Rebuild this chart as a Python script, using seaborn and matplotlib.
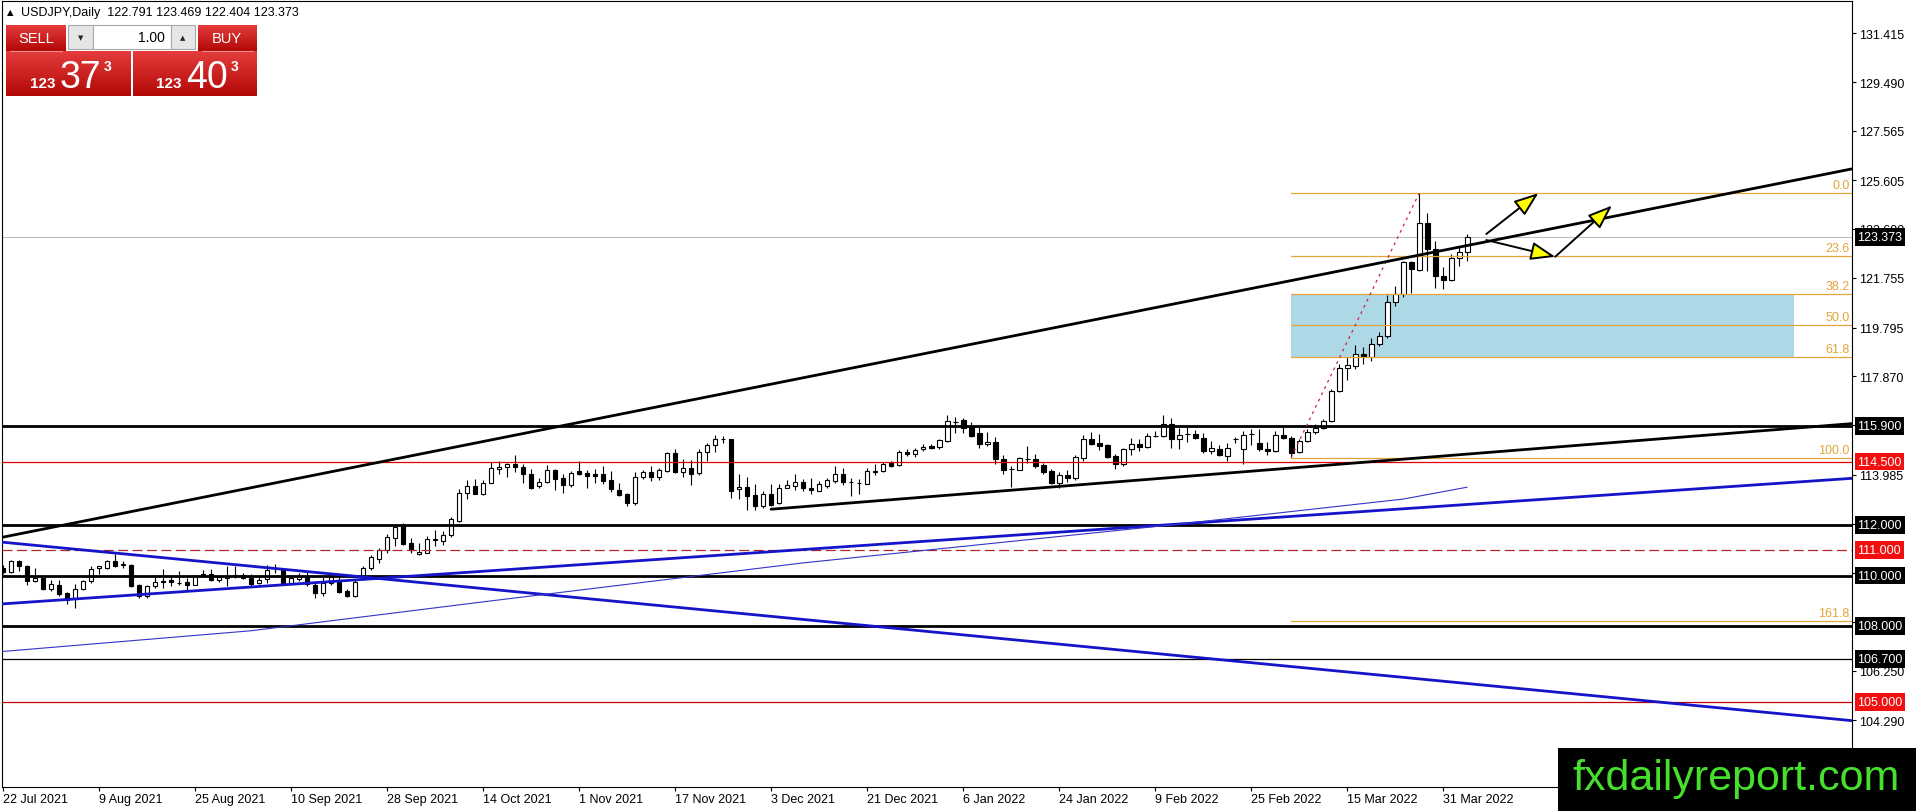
import numpy as np
import pandas as pd
import matplotlib
matplotlib.use("Agg")
import matplotlib.pyplot as plt
import matplotlib.transforms as mtransforms
from matplotlib.patches import Rectangle, FancyArrowPatch
from matplotlib.colors import LinearSegmentedColormap
import seaborn as sns


sns.set_theme(style="white")
plt.rcParams["font.family"] = ["Liberation Sans", "DejaVu Sans"]
plt.rcParams["lines.scale_dashes"] = False

# ---- data (bar index 0 = 22 Jul 2021, daily bars) ----
opens = [110.30, 110.13, 110.57, 110.39, 109.78, 109.91, 109.45, 109.62, 109.32, 109.08,
         109.45, 109.78, 110.29, 110.29, 110.59, 110.43, 110.43, 109.62, 109.21, 109.58,
         109.76, 109.82, 109.72, 109.74, 109.64, 110.03, 110.07, 109.84, 109.91, 110.00,
         110.02, 109.89, 109.70, 109.86, 110.28, 110.22, 109.67, 109.86, 109.99, 109.63,
         109.33, 109.70, 109.76, 109.39, 109.20, 109.99, 110.29, 110.64, 111.01, 111.47,
         112.00, 111.28, 110.86, 110.91, 111.42, 111.38, 111.61, 112.17, 113.28, 113.54,
         113.22, 113.67, 114.20, 114.30, 114.39, 114.30, 114.00, 113.54, 113.71, 114.16,
         113.84, 113.58, 114.13, 114.04, 114.00, 114.00, 113.76, 113.38, 113.24, 112.86,
         113.91, 114.09, 113.89, 114.13, 114.83, 114.07, 114.26, 114.04, 114.88, 115.14,
         115.40, 115.38, 113.41, 113.51, 113.17, 112.75, 113.21, 112.86, 113.47, 113.54,
         113.71, 113.47, 113.34, 113.55, 113.74, 114.03, 113.70, 113.65, 113.63, 114.10,
         114.11, 114.43, 114.37, 114.86, 114.82, 114.99, 115.12, 115.08, 115.32, 116.07,
         116.13, 115.91, 115.64, 115.21, 115.29, 114.59, 114.20, 114.17, 114.59, 114.59,
         114.37, 114.13, 113.64, 113.97, 113.87, 114.66, 115.38, 115.25, 115.14, 114.72,
         114.42, 114.99, 115.21, 115.08, 115.51, 115.51, 116.00, 115.38, 115.60, 115.61,
         115.45, 114.92, 115.01, 114.72, 115.38, 115.01, 115.58, 115.22, 115.01, 114.92,
         115.54, 115.45, 114.86, 115.32, 115.67, 115.84, 116.11, 117.29, 118.21, 118.28,
         118.74, 118.64, 119.13, 119.46, 120.82, 121.12, 122.38, 122.05, 123.93, 122.88,
         121.82, 121.69, 122.53, 122.791]
highs = [110.40, 110.63, 110.63, 110.43, 110.30, 109.95, 109.84, 109.82, 109.36, 109.68,
         109.84, 110.39, 110.39, 110.63, 110.87, 110.59, 110.47, 109.66, 109.64, 110.04,
         110.26, 109.95, 110.17, 109.91, 110.04, 110.21, 110.26, 110.00, 110.39, 110.39,
         110.09, 110.07, 109.96, 110.42, 110.45, 110.29, 109.96, 110.12, 110.16, 109.76,
         109.96, 110.07, 109.99, 109.46, 109.83, 110.36, 110.82, 111.08, 111.64, 112.00,
         112.07, 111.47, 111.30, 111.57, 111.80, 111.74, 112.30, 113.41, 113.78, 113.80,
         113.78, 114.49, 114.53, 114.46, 114.75, 114.39, 114.22, 113.87, 114.36, 114.22,
         114.00, 114.13, 114.53, 114.17, 114.22, 114.33, 114.13, 113.67, 113.28, 114.07,
         114.17, 114.33, 114.26, 114.88, 114.99, 114.62, 114.57, 114.99, 115.25, 115.54,
         115.51, 115.41, 114.00, 113.89, 113.63, 113.34, 113.63, 113.61, 113.76, 114.00,
         113.80, 113.84, 113.74, 113.87, 114.33, 114.26, 113.87, 113.80, 114.24, 114.39,
         114.50, 114.53, 114.95, 114.99, 115.05, 115.21, 115.21, 115.38, 116.34, 116.26,
         116.24, 116.08, 115.87, 115.68, 115.47, 114.76, 114.33, 114.68, 115.12, 114.82,
         114.46, 114.20, 114.07, 114.16, 114.76, 115.55, 115.68, 115.61, 115.18, 114.79,
         115.03, 115.45, 115.38, 115.64, 115.71, 116.34, 116.21, 115.84, 115.87, 115.74,
         115.64, 115.32, 115.14, 115.25, 115.49, 115.71, 115.78, 115.78, 115.28, 115.71,
         115.91, 115.51, 115.41, 115.78, 115.97, 116.17, 117.38, 118.34, 118.64, 119.09,
         119.04, 119.39, 119.60, 121.06, 121.43, 122.44, 122.44, 125.10, 124.32, 123.23,
         122.18, 122.70, 122.97, 123.469]
lows = [110.07, 110.10, 110.17, 109.61, 109.74, 109.42, 109.38, 109.18, 108.86, 108.71,
        109.42, 109.71, 110.08, 110.26, 110.33, 110.30, 109.55, 109.12, 109.12, 109.51,
        109.51, 109.58, 109.64, 109.42, 109.61, 109.95, 109.78, 109.74, 109.58, 109.90,
        109.86, 109.57, 109.67, 109.70, 110.09, 109.63, 109.67, 109.80, 109.57, 109.11,
        109.20, 109.63, 109.30, 109.17, 109.17, 109.83, 110.22, 110.51, 110.88, 111.17,
        111.21, 110.91, 110.82, 110.88, 111.17, 111.21, 111.51, 112.13, 113.01, 113.22,
        113.20, 113.64, 114.00, 113.91, 114.09, 113.64, 113.43, 113.47, 113.67, 113.38,
        113.28, 113.51, 113.96, 113.47, 113.67, 113.61, 113.30, 113.14, 112.75, 112.78,
        113.83, 113.74, 113.78, 114.09, 114.04, 113.91, 113.57, 113.96, 114.53, 114.86,
        115.25, 113.08, 113.01, 112.58, 112.58, 112.68, 112.75, 112.82, 113.45, 113.37,
        113.34, 113.21, 113.32, 113.45, 113.67, 113.58, 113.14, 113.21, 113.61, 113.97,
        114.07, 114.29, 114.33, 114.72, 114.68, 114.92, 115.01, 114.99, 115.29, 115.64,
        115.64, 115.47, 115.05, 115.12, 114.42, 114.03, 113.50, 114.16, 114.46, 114.24,
        114.00, 113.61, 113.47, 113.71, 113.76, 114.53, 115.16, 114.95, 114.63, 114.20,
        114.33, 114.76, 114.92, 115.05, 115.47, 115.47, 115.05, 115.01, 115.29, 115.38,
        114.83, 114.79, 114.72, 114.53, 115.25, 114.42, 115.14, 114.92, 114.75, 114.86,
        115.41, 114.66, 114.83, 115.28, 115.58, 115.80, 116.07, 117.25, 117.72, 118.14,
        118.34, 118.47, 119.05, 119.40, 120.64, 120.99, 121.16, 122.01, 122.01, 121.35,
        121.30, 121.65, 122.24, 122.404]
closes = [110.13, 110.57, 110.37, 109.78, 109.91, 109.45, 109.67, 109.29, 109.05, 109.47,
          109.78, 110.24, 110.36, 110.59, 110.37, 110.45, 109.58, 109.21, 109.58, 109.75,
          109.78, 109.74, 109.71, 109.64, 109.97, 110.05, 109.82, 109.95, 110.00, 110.01,
          109.90, 109.67, 109.83, 110.22, 110.30, 109.67, 109.89, 109.99, 109.67, 109.33,
          109.70, 109.96, 109.37, 109.20, 109.76, 110.29, 110.75, 111.01, 111.51, 111.93,
          111.25, 111.01, 110.95, 111.43, 111.43, 111.61, 112.22, 113.28, 113.54, 113.22,
          113.64, 114.26, 114.30, 114.39, 114.30, 114.00, 113.47, 113.71, 114.16, 113.80,
          113.58, 114.04, 114.03, 113.93, 113.93, 113.74, 113.41, 113.17, 112.88, 113.91,
          114.09, 113.89, 114.17, 114.83, 114.07, 114.26, 114.03, 114.88, 115.14, 115.41,
          115.38, 113.34, 113.51, 113.14, 112.75, 113.21, 112.79, 113.47, 113.57, 113.71,
          113.47, 113.39, 113.61, 113.76, 114.03, 113.70, 113.71, 113.66, 114.11, 114.11,
          114.42, 114.33, 114.86, 114.79, 114.96, 115.08, 115.05, 115.34, 116.11, 116.08,
          115.84, 115.51, 115.18, 115.29, 114.59, 114.17, 114.21, 114.63, 114.60, 114.33,
          114.09, 113.64, 113.97, 113.87, 114.68, 115.38, 115.21, 115.12, 114.68, 114.42,
          114.99, 115.21, 115.08, 115.51, 115.52, 116.00, 115.41, 115.54, 115.61, 115.45,
          114.92, 115.05, 114.75, 115.05, 115.39, 115.54, 115.58, 114.99, 114.92, 115.54,
          115.45, 114.83, 115.32, 115.67, 115.84, 116.11, 117.29, 118.21, 118.30, 118.74,
          118.64, 119.13, 119.46, 120.82, 121.12, 122.38, 122.09, 123.93, 122.88, 121.82,
          121.69, 122.53, 122.77, 123.373]

date_labels = ["22 Jul 2021", "9 Aug 2021", "25 Aug 2021", "10 Sep 2021", "28 Sep 2021",
               "14 Oct 2021", "1 Nov 2021", "17 Nov 2021", "3 Dec 2021", "21 Dec 2021",
               "6 Jan 2022", "24 Jan 2022", "9 Feb 2022", "25 Feb 2022", "15 Mar 2022",
               "31 Mar 2022"]
bars_per_label = 12

price_ticks = [131.415, 129.490, 127.565, 125.605, 123.690, 121.755, 119.795, 117.870,
               115.930, 113.985, 112.050, 110.110, 108.175, 106.250, 104.290]

levels = [115.900, 114.500, 112.000, 111.000, 110.000, 108.000, 106.700, 105.000]
last_price = 123.373

fib_ratios = [0.0, 23.6, 38.2, 50.0, 61.8, 100.0, 161.8]
fib_high, fib_low = 125.10, 114.66
fib_low_bar, fib_high_bar = 161, 177
zone_end_bar = 223.9

upper_trend_bars, upper_trend_prices = [-0.125, 231.1], [111.51, 126.06]
lower_trend_bars, lower_trend_prices = [96, 231.1], [112.62, 116.00]
blue_up_bars, blue_up_prices = [-0.125, 231.1], [108.88, 113.84]
blue_down_bars, blue_down_prices = [-0.125, 231.1], [111.32, 104.27]
ma_bars = [-0.125, 31, 61, 100, 146, 175, 183]
ma_prices = [107.00, 107.82, 109.00, 110.50, 112.00, 113.02, 113.49]

arrow_tails = [(185.4, 123.49), (185.4, 123.25), (194.0, 122.59)]
arrow_heads = [(191.9, 125.10), (194.0, 122.59), (201.1, 124.61)]

header_text = "USDJPY,Daily  122.791 123.469 122.404 123.373"

# ---- styles ----
level_style = {
    115.900: ("black", 2.0, "-", "black"),
    114.500: ("#E00000", 0.9, "-", "#F01010"),
    112.000: ("black", 2.0, "-", "black"),
    111.000: ("#B02828", 0.9, (0, (7.2, 3.2)), "#F01010"),
    110.000: ("black", 2.0, "-", "black"),
    108.000: ("black", 2.0, "-", "black"),
    106.700: ("black", 0.9, "-", "black"),
    105.000: ("#C00000", 0.9, "-", "#F01010"),
}
FIB_COLOR = "#E3A53A"
BLUE = "#1414C8"

W, H = 1916, 812
fig = plt.figure(figsize=(W / 100, H / 100), dpi=100, facecolor="white")
ax = fig.add_axes([2 / W, 24 / H, 1850 / W, 786 / H])
ax.set_facecolor("white")

df = pd.DataFrame({"open": opens, "high": highs, "low": lows, "close": closes})
df["bar"] = np.arange(len(df))
up = df["close"] >= df["open"]
body_lo = df[["open", "close"]].min(axis=1)
body_h = (df["close"] - df["open"]).abs().clip(lower=0.004)

# fib zone
ax.add_patch(Rectangle((fib_low_bar, fib_high - (fib_high - fib_low) * 0.618),
                       zone_end_bar - fib_low_bar, (fib_high - fib_low) * (0.618 - 0.382),
                       fc="#ADD8E6", ec="none", zorder=1))

# candles
ax.vlines(df["bar"], df["low"], df["high"], color="black", lw=0.8, zorder=3)
ax.bar(df["bar"], body_h, bottom=body_lo, width=0.6,
       color=np.where(up, "white", "black"), edgecolor="black", linewidth=0.8, zorder=4)

# horizontal levels
for lv in levels:
    col, lw, ls, _ = level_style[lv]
    ax.axhline(lv, color=col, lw=lw, ls=ls, zorder=5)
ax.axhline(last_price, color="#BEBEBE", lw=0.8, zorder=2)

# fibonacci lines
for r in fib_ratios:
    lv = fib_high - (fib_high - fib_low) * r / 100
    ax.plot([fib_low_bar, 232], [lv, lv], color=FIB_COLOR, lw=0.9, zorder=5)
ax.plot([fib_low_bar, fib_high_bar], [fib_low, fib_high], color="#D0203A",
        ls=(0, (2, 3)), lw=0.9, zorder=5)

# trend lines
ax.plot(upper_trend_bars, upper_trend_prices, color="black", lw=2.0, zorder=6)
ax.plot(lower_trend_bars, lower_trend_prices, color="black", lw=2.0, zorder=6)
ax.plot(blue_up_bars, blue_up_prices, color=BLUE, lw=2.0, zorder=6)
ax.plot(blue_down_bars, blue_down_prices, color=BLUE, lw=2.0, zorder=6)
sns.lineplot(x=ma_bars, y=ma_prices, ax=ax, color="#3434C4", lw=0.8, zorder=6)

for tail, head in zip(arrow_tails, arrow_heads):
    ax.add_patch(FancyArrowPatch(tail, head, arrowstyle="-|>,head_length=0.75,head_width=0.28",
                                 mutation_scale=20, lw=1.4, fc="yellow", ec="black",
                                 shrinkA=0, shrinkB=0, zorder=7))

ax.set_xlim(-0.125, 231.1)
ax.set_ylim(101.65, 132.69)

# axes cosmetics
ax.set_xticks(np.arange(len(date_labels)) * bars_per_label, labels=date_labels)
for lab in ax.get_xticklabels():
    lab.set_ha("left")
ax.set_yticks(price_ticks, labels=[f"{v:.3f}" for v in price_ticks])
ax.yaxis.tick_right()
ax.tick_params(axis="y", direction="out", length=3, width=0.8, pad=2, labelsize=9,
               colors="black", right=True, left=False)
ax.tick_params(axis="x", direction="out", length=3, width=0.8, pad=1, labelsize=9,
               colors="black", bottom=True)
ax.grid(False)
for s in ax.spines.values():
    s.set_color("black")
    s.set_linewidth(0.8)

trans = mtransforms.blended_transform_factory(ax.transAxes, ax.transData)
for lv in levels + [last_price]:
    box = level_style.get(lv, (None, None, None, "black"))[3]
    ax.text(1.0029, lv, f"{lv:.3f}", transform=trans, ha="left", va="center",
            color="white", fontsize=9, clip_on=False, zorder=8,
            bbox=dict(boxstyle="square,pad=0.22", fc=box, ec="none"))
for r in fib_ratios:
    lv = fib_high - (fib_high - fib_low) * r / 100
    ax.text(0.9988, lv + 0.08, f"{r:.1f}", transform=trans, ha="right", va="bottom",
            color=FIB_COLOR, fontsize=9, zorder=8)

# ---- overlay in pixel coordinates: header, trade panel, watermark ----
ov = fig.add_axes([0, 0, 1, 1])
ov.set_facecolor("none")
ov.axis("off")

ov.text(7, 13, "▲", fontsize=6, va="center", ha="left", color="black",
        family=["DejaVu Sans"])
ov.text(21, 13, header_text, fontsize=9, va="center", ha="left", color="black")

red_cmap = LinearSegmentedColormap.from_list("btn", ["#E43C3C", "#B30808"])
grad = np.linspace(0, 1, 64).reshape(-1, 1)
for x0, y0, x1, y1 in [(6, 26, 66, 52), (198, 26, 257, 52), (6, 52, 131, 97), (133, 52, 257, 97)]:
    ov.imshow(grad, cmap=red_cmap, extent=[x0, x1, y1, y0], aspect="auto", zorder=2)
ov.plot([10, 62], [52, 52], color="#F29090", lw=0.8, zorder=3)
ov.plot([202, 253], [52, 52], color="#F29090", lw=0.8, zorder=3)
for x0, x1, fc in [(68, 93, "#E6E6E6"), (93, 171, "white"), (171, 195, "#E6E6E6")]:
    ov.add_patch(Rectangle((x0, 26), x1 - x0, 24, fc=fc, ec="#A8A8A8", lw=0.8, zorder=2))
ov.text(80.5, 38, "▼", fontsize=5, ha="center", va="center", family=["DejaVu Sans"])
ov.text(183, 38, "▲", fontsize=5, ha="center", va="center", family=["DejaVu Sans"])
ov.text(165, 38, "1.00", fontsize=10, ha="right", va="center", color="black", zorder=3)
ov.text(36, 39, "SELL", fontsize=10.5, ha="center", va="center", color="white", zorder=3)
ov.text(227, 39, "BUY", fontsize=10.5, ha="center", va="center", color="white", zorder=3)
for x_small, x_big, x_sup, big in [(30, 60, 104, "37"), (156, 186, 231, "40")]:
    ov.text(x_small, 88, "123", fontsize=11, fontweight="bold", ha="left", va="baseline",
            color="white", zorder=3)
    ov.text(x_big, 88, big, fontsize=27, ha="left", va="baseline", color="white", zorder=3)
    ov.text(x_sup, 60, "3", fontsize=10, fontweight="bold", ha="left", va="top",
            color="white", zorder=3)

ov.add_patch(Rectangle((1558, 749), 358, 63, fc="black", ec="none", zorder=4))
ov.text(1736, 779, "fxdailyreport.com", fontsize=31, ha="center", va="center",
        color="#46E02C", zorder=5)

ov.set_xlim(0, W)
ov.set_ylim(H, 0)

fig.savefig("out.png", dpi=100, facecolor="white")
